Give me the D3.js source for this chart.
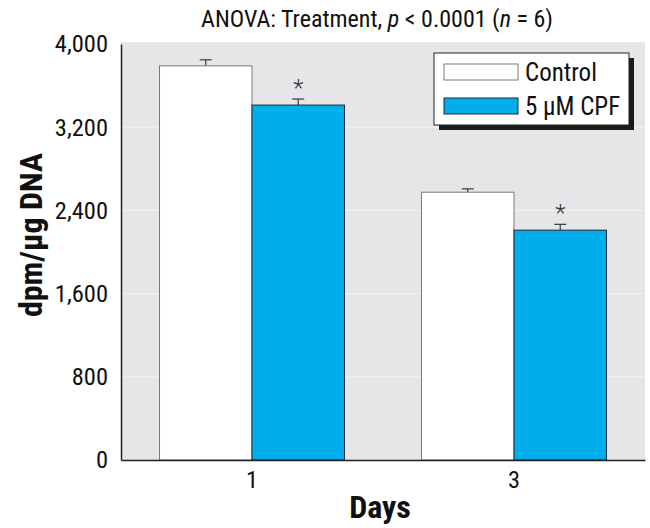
<!DOCTYPE html>
<html><head><meta charset="utf-8">
<script src="https://cdn.jsdelivr.net/npm/d3@7"></script>
<style>
body{margin:0;background:#fff;}
text{font-family:"Liberation Sans Narrow","Roboto Condensed","DejaVu Sans Condensed",Arial,sans-serif;}
</style></head>
<body><svg id="c" width="650" height="528"></svg>
<script>
const days = ["1", "3"];
const seriesNames = ["Control", "5 \u00b5M CPF"];
const controlValues = [3790, 2575];
const controlErrors = [58, 32];
const cpfValues = [3413, 2210];
const cpfErrors = [58, 56];
const significant = [true, true];
const yTicks = [0, 800, 1600, 2400, 3200, 4000];
const colors = ["#ffffff", "#00aeeb"];
const strokes = ["#7a7a7a", "#1b2a3a"];

const svg = d3.select("#c");
const L = 121, R = 645, T = 44, B = 460;
const x = d3.scaleBand().domain(days).range([L, R]).paddingInner(0.294).paddingOuter(0.147);
const xs = d3.scaleBand().domain([0, 1]).range([0, x.bandwidth()]);
const y = d3.scaleLinear().domain([0, 4000]).range([B, T]);

svg.append("rect").attr("x", L).attr("y", T - 2).attr("width", R - L).attr("height", B - T + 2).attr("fill", "#e6e6e8");
svg.append("g").selectAll("line").data(yTicks.slice(1, -1)).join("line")
  .attr("x1", L).attr("x2", R).attr("y1", d => y(d)).attr("y2", d => y(d))
  .attr("stroke", "#f0f0f2").attr("stroke-width", 1.2);

const data = days.map((d, i) => [
  {day: d, s: 0, v: controlValues[i], e: controlErrors[i], sig: false},
  {day: d, s: 1, v: cpfValues[i], e: cpfErrors[i], sig: significant[i]}
]).flat();

const eg = svg.append("g");
data.forEach(d => {
  const cx = x(d.day) + xs(d.s) + xs.bandwidth() / 2;
  eg.append("line").attr("x1", cx).attr("x2", cx).attr("y1", y(d.v)).attr("y2", y(d.v + d.e)).attr("stroke", "#333a40").attr("stroke-width", 1.2);
  eg.append("line").attr("x1", cx - 6).attr("x2", cx + 6).attr("y1", y(d.v + d.e)).attr("y2", y(d.v + d.e)).attr("stroke", "#333a40").attr("stroke-width", 1.2);
  if (d.sig) {
    eg.append("text").attr("x", cx).attr("y", y(d.v + d.e) - 3).attr("text-anchor", "middle")
      .attr("font-size", 24).attr("font-weight", 300).attr("fill", "#333").text("*");
  }
});

svg.append("g").selectAll("rect").data(data).join("rect")
  .attr("x", d => x(d.day) + xs(d.s))
  .attr("y", d => y(d.v))
  .attr("width", xs.bandwidth())
  .attr("height", d => B - y(d.v))
  .attr("fill", d => colors[d.s])
  .attr("stroke", d => strokes[d.s]).attr("stroke-width", 1);

const ya = svg.append("g").attr("transform", `translate(${L},0)`)
  .call(d3.axisLeft(y).tickValues(yTicks).tickSize(0).tickPadding(13).tickFormat(d3.format(",")));
ya.select(".domain").attr("stroke", "#222").attr("stroke-width", 1.5);
ya.selectAll("text").attr("font-size", 24.5).attr("fill", "#111")
  .attr("font-family", "'Liberation Sans Narrow','Roboto Condensed',Arial,sans-serif");

const xa = svg.append("g").attr("transform", `translate(0,${B})`)
  .call(d3.axisBottom(x).tickSize(0).tickPadding(11));
xa.select(".domain").attr("stroke", "#222").attr("stroke-width", 1.5);
xa.selectAll("text").attr("font-size", 24.5).attr("fill", "#111")
  .attr("font-family", "'Liberation Sans Narrow','Roboto Condensed',Arial,sans-serif");

const t = svg.append("text").attr("x", 377).attr("y", 27).attr("text-anchor", "middle").attr("font-size", 24).attr("fill", "#111");
t.append("tspan").text("ANOVA: Treatment, ");
t.append("tspan").attr("font-style", "italic").text("p");
t.append("tspan").text(" < 0.0001 (");
t.append("tspan").attr("font-style", "italic").text("n");
t.append("tspan").text(" = 6)");

svg.append("text").attr("x", 380).attr("y", 518).attr("text-anchor", "middle")
  .attr("font-size", 32).attr("font-weight", "bold").attr("fill", "#111").text("Days");
svg.append("text").attr("transform", "translate(42,235) rotate(-90)").attr("text-anchor", "middle")
  .attr("font-size", 32).attr("font-weight", "bold").attr("fill", "#111").text("dpm/\u00b5g DNA");

const lg = svg.append("g");
lg.append("rect").attr("x", 439).attr("y", 58).attr("width", 195).attr("height", 72).attr("fill", "#1a1a1a");
lg.append("rect").attr("x", 434).attr("y", 53).attr("width", 195).attr("height", 72).attr("fill", "#fff").attr("stroke", "#222").attr("stroke-width", 1);
seriesNames.forEach((n, i) => {
  const yy = 64 + i * 34;
  lg.append("rect").attr("x", 444).attr("y", yy).attr("width", 74).attr("height", 16)
    .attr("fill", colors[i]).attr("stroke", strokes[i]).attr("stroke-width", 1);
  lg.append("text").attr("x", 525).attr("y", yy + 17).attr("font-size", 25).attr("fill", "#111").text(n);
});
</script></body></html>
